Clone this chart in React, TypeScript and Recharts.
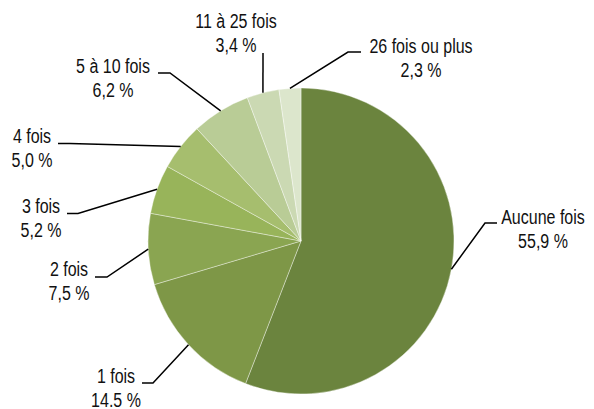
import React from "react";
import { PieChart, Pie, Cell } from "recharts";

const categories = [
  "Aucune fois",
  "1 fois",
  "2 fois",
  "3 fois",
  "4 fois",
  "5 à 10 fois",
  "11 à 25 fois",
  "26 fois ou plus",
];
const values = [55.9, 14.5, 7.5, 5.2, 5.0, 6.2, 3.4, 2.3];
const valueLabels = ["55,9 %", "14.5 %", "7,5 %", "5,2 %", "5,0 %", "6,2 %", "3,4 %", "2,3 %"];
const colors = ["#6b843e", "#7e9747", "#8aa551", "#98b45a", "#a6be6e", "#b9cc96", "#cbd9b3", "#dce6cc"];

// label layout: offsets from pie centre (elbow point, tick end, text x, first baseline)
const labelLayout = [
  { ex: 184, ey: -18, tx: 196, textX: 242, by: -17 },
  { ex: -148, ey: 142, tx: -159, textX: -185, by: 142 },
  { ex: -194, ey: 36, tx: -206, textX: -232, by: 35 },
  { ex: -223, ey: -27.5, tx: -234, textX: -260, by: -28 },
  { ex: -231, ey: -97.5, tx: -243, textX: -269, by: -98 },
  { ex: -131, ey: -168, tx: -143, textX: -188, by: -168 },
  { ex: -38, ey: -188, tx: -38, textX: -65, by: -213 },
  { ex: 47, ey: -189, tx: 60, textX: 120, by: -188 },
];

const data = categories.map((name, i) => ({ name, value: values[i], label: valueLabels[i] }));

const RAD = Math.PI / 180;
const FONT = "'Liberation Sans', Arial, sans-serif";

const NarrowText = ({ x, y, children }: any) => (
  <text
    transform={`translate(${x},${y}) scale(0.8,1)`}
    x={0}
    y={0}
    textAnchor="middle"
    fontFamily={FONT}
    fontSize={20}
    fill="#111"
  >
    {children}
  </text>
);

const renderLabel = (props: any) => {
  const { cx, cy, midAngle, outerRadius, index } = props;
  const L = labelLayout[index];
  const sx = cx + outerRadius * Math.cos(-midAngle * RAD);
  const sy = cy + outerRadius * Math.sin(-midAngle * RAD);
  const ex = cx + L.ex;
  const ey = cy + L.ey;
  const tx = cx + L.tx;
  return (
    <g key={`lbl-${index}`}>
      <polyline
        points={`${sx},${sy} ${ex},${ey} ${tx},${ey}`}
        fill="none"
        stroke="#000"
        strokeWidth={1.5}
      />
      <NarrowText x={cx + L.textX} y={cy + L.by}>
        {categories[index]}
      </NarrowText>
      <NarrowText x={cx + L.textX} y={cy + L.by + 24}>
        {valueLabels[index]}
      </NarrowText>
    </g>
  );
};

export default function App() {
  return (
    <div style={{ position: "absolute", left: 0, top: 0, width: 594, height: 409, background: "#fff" }}>
      <PieChart width={594} height={409} margin={{ top: 0, right: 0, bottom: 0, left: 0 }}>
        <Pie
          data={data}
          dataKey="value"
          nameKey="name"
          cx={301}
          cy={241}
          outerRadius={153}
          startAngle={90}
          endAngle={-270}
          stroke="#ffffff"
          strokeOpacity={0.5}
          strokeWidth={0.75}
          label={renderLabel}
          labelLine={false}
          isAnimationActive={false}
        >
          {data.map((d, i) => (
            <Cell key={d.name} fill={colors[i]} />
          ))}
        </Pie>
      </PieChart>
    </div>
  );
}
